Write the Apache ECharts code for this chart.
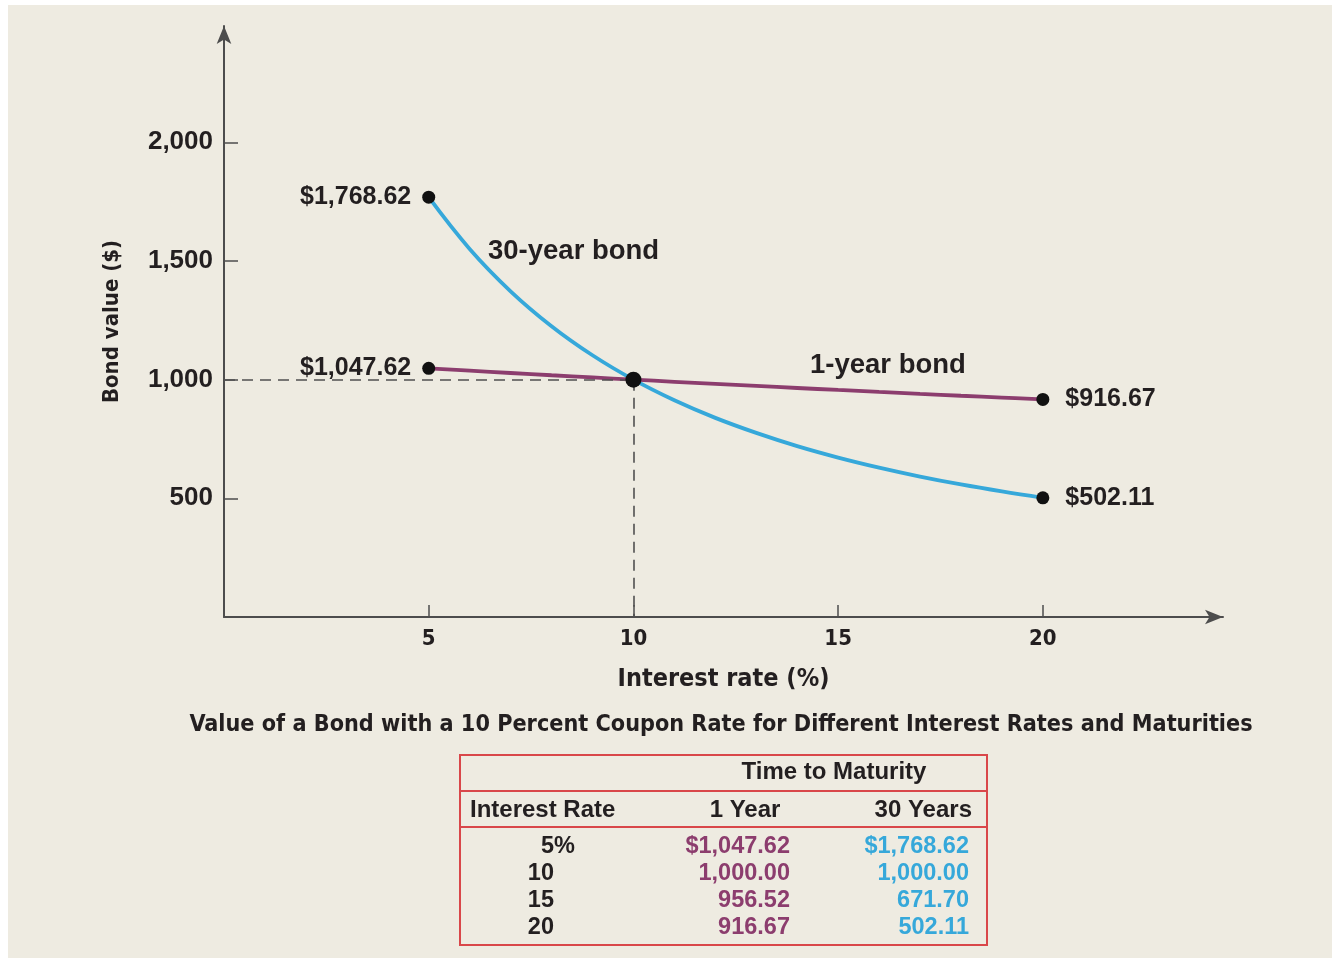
<!DOCTYPE html>
<html>
<head>
<meta charset="utf-8">
<title>Bond value vs interest rate</title>
<script src="https://cdn.jsdelivr.net/npm/echarts@6/dist/echarts.min.js"></script>
<style>
  html, body { margin: 0; padding: 0; background: #ffffff; }
  #wrap { position: relative; width: 1332px; height: 958px; overflow: hidden; }
  #paper { position: absolute; left: 8px; top: 5px; right: 0; bottom: 0; background: #EEEBE1; }
  #chart { position: absolute; left: 0; top: 0; width: 1332px; height: 958px; }
</style>
</head>
<body>
<div id="wrap"><div id="paper"></div><div id="chart"></div></div>
<script>
// Interest rates (%) along the horizontal axis
const rates = [5, 6, 7, 8, 9, 10, 11, 12, 13, 14, 15, 16, 17, 18, 19, 20];
// Price of a 10% coupon bond maturing in 1 year
const oneYearBond = [1047.62, 1037.7, 1028.0, 1018.5, 1009.2, 1000.00, 991.0, 982.1, 973.5, 964.9, 956.52, 948.3, 940.2, 932.2, 924.4, 916.67];
// Price of a 10% coupon bond maturing in 30 years
const thirtyYearBond = [1768.62, 1550.6, 1372.3, 1225.2, 1102.7, 1000.00, 913.1, 838.9, 775.6, 719.9, 671.70, 629.3, 591.6, 558.3, 528.8, 502.11];
// Rows shown in the summary table
const tableRates = [5, 10, 15, 20];
// Axis ticks
const xTicks = [5, 10, 15, 20];
const yTicks = [500, 1000, 1500, 2000];
// Par value and coupon rate (the point where both curves cross)
const parValue = 1000;
const couponRate = 10;

const BLUE = '#36A8DA';
const PURPLE = '#8C3D6E';
const INK = '#231F20';
const AXIS = '#4D4D4D';
const RED = '#D9474A';
const WIDE = '"Liberation Sans", Arial, Helvetica, sans-serif';
const NARROW = '"Liberation Sans Narrow", "Arial Narrow", "DejaVu Sans Condensed", sans-serif';

const money = (v, dollar) =>
  (dollar ? '$' : '') + v.toLocaleString('en-US', { minimumFractionDigits: 2, maximumFractionDigits: 2 });

const pairs = (ys) => rates.map((r, i) => [r, ys[i]]);
const last = rates.length - 1;

// Endpoint markers with their price labels
const endpoints = [
  { value: [rates[0], thirtyYearBond[0]], label: { position: 'left', distance: 11 } },
  { value: [rates[0], oneYearBond[0]], label: { position: 'left', distance: 11 } },
  { value: [rates[last], oneYearBond[last]], label: { position: 'right', distance: 16 } },
  { value: [rates[last], thirtyYearBond[last]], label: { position: 'right', distance: 16 } }
];

// Summary table drawn below the chart
const tbl = { x: 460, y: 755, w: 527, h: 190, line1: 791, line2: 827, row0: 847, rowStep: 27 };
const head = (text, x, y, align) => ({
  type: 'text', x: x, y: y,
  style: { text: text, font: 'bold 24px ' + WIDE, fill: INK, align: align, verticalAlign: 'middle' }
});
const cell = (text, x, y, color) => ({
  type: 'text', x: x, y: y,
  style: { text: text, font: 'bold 23.5px ' + WIDE, fill: color, align: 'right', verticalAlign: 'middle' }
});
const tableGraphics = [
  { type: 'rect', shape: { x: tbl.x, y: tbl.y, width: tbl.w, height: tbl.h },
    style: { fill: 'none', stroke: RED, lineWidth: 2 } },
  { type: 'line', shape: { x1: tbl.x, y1: tbl.line1, x2: tbl.x + tbl.w, y2: tbl.line1 },
    style: { stroke: RED, lineWidth: 2 } },
  { type: 'line', shape: { x1: tbl.x, y1: tbl.line2, x2: tbl.x + tbl.w, y2: tbl.line2 },
    style: { stroke: RED, lineWidth: 2 } },
  head('Time to Maturity', 834, 772, 'center'),
  head('Interest Rate', 470, 810, 'left'),
  head('1 Year', 745, 810, 'center'),
  head('30 Years', 972, 810, 'right')
];
tableRates.forEach((r, k) => {
  const i = rates.indexOf(r);
  const y = tbl.row0 + k * tbl.rowStep;
  tableGraphics.push(
    cell(String(r), 554, y, INK),
    cell(money(oneYearBond[i], k === 0), 790, y, PURPLE),
    cell(money(thirtyYearBond[i], k === 0), 969, y, BLUE)
  );
  if (k === 0) {
    tableGraphics.push({ type: 'text', x: 554, y: y,
      style: { text: '%', font: 'bold 23.5px ' + WIDE, fill: INK, align: 'left', verticalAlign: 'middle' } });
  }
});

const chart = echarts.init(document.getElementById('chart'), null, { renderer: 'canvas' });
chart.setOption({
  backgroundColor: 'transparent',
  animation: false,
  grid: { left: 224, top: 26, right: 109, bottom: 341, containLabel: false },
  xAxis: {
    type: 'value', min: 0, max: 24.4,
    name: 'Interest rate (%)', nameLocation: 'middle', nameGap: 50,
    nameTextStyle: { color: INK, fontFamily: NARROW, fontWeight: 'bold', fontSize: 25 },
    axisLine: { show: true, onZero: false, symbol: ['none', 'arrow'], symbolSize: [11, 18],
      lineStyle: { color: AXIS, width: 2 } },
    axisTick: { show: true, inside: true, length: 12, customValues: xTicks, lineStyle: { color: AXIS, width: 1.5 } },
    axisLabel: { customValues: xTicks, margin: 11, color: INK, fontFamily: NARROW, fontWeight: 'bold', fontSize: 22 },
    splitLine: { show: false }
  },
  yAxis: {
    type: 'value', min: 0, max: 2490,
    name: 'Bond value ($)', nameLocation: 'middle', nameGap: 101, nameRotate: 90,
    nameTextStyle: { color: INK, fontFamily: NARROW, fontWeight: 'bold', fontSize: 22 },
    axisLine: { show: true, onZero: false, symbol: ['none', 'arrow'], symbolSize: [11, 18],
      lineStyle: { color: AXIS, width: 2 } },
    axisTick: { show: true, inside: true, length: 14, customValues: yTicks, lineStyle: { color: AXIS, width: 1.5 } },
    axisLabel: { customValues: yTicks, margin: 11, color: INK, fontFamily: WIDE, fontWeight: 'bold', fontSize: 26,
      formatter: (v) => v.toLocaleString('en-US') },
    splitLine: { show: false }
  },
  series: [
    {
      name: '30-year bond', type: 'line', data: pairs(thirtyYearBond), smooth: 0.4,
      showSymbol: false, z: 3,
      lineStyle: { color: BLUE, width: 3.8 }
    },
    {
      name: '1-year bond', type: 'line', data: pairs(oneYearBond), smooth: 0.4,
      showSymbol: false, z: 4,
      lineStyle: { color: PURPLE, width: 3.8 },
      markLine: {
        silent: true, symbol: 'none', label: { show: false },
        lineStyle: { color: '#505050', width: 1.6, type: [11, 7] },
        data: [
          [{ coord: [0, parValue] }, { coord: [couponRate, parValue] }],
          [{ coord: [couponRate, parValue] }, { coord: [couponRate, 0] }]
        ]
      }
    },
    {
      name: 'ends', type: 'scatter', z: 5, symbolSize: 13,
      itemStyle: { color: '#111111', opacity: 1 },
      label: { show: true, color: INK, fontFamily: WIDE, fontWeight: 'bold', fontSize: 25,
        formatter: (p) => money(p.value[1], true) },
      data: endpoints
    },
    {
      name: 'par', type: 'scatter', z: 6, symbolSize: 16,
      itemStyle: { color: '#111111', opacity: 1 },
      data: [[couponRate, parValue]]
    }
  ],
  graphic: [
    { type: 'text', x: 488, y: 251, z: 10, style: { text: '30-year bond', font: 'bold 27.5px ' + WIDE, fill: INK, align: 'left', verticalAlign: 'middle' } },
    { type: 'text', x: 810, y: 365, z: 10, style: { text: '1-year bond', font: 'bold 27.5px ' + WIDE, fill: INK, align: 'left', verticalAlign: 'middle' } },
    { type: 'text', x: 721, y: 725, z: 10, style: { text: 'Value of a Bond with a 10 Percent Coupon Rate for Different Interest Rates and Maturities', font: 'bold 23.2px ' + NARROW, fill: INK, align: 'center', verticalAlign: 'middle' } }
  ].concat(tableGraphics)
});
</script>
</body>
</html>
